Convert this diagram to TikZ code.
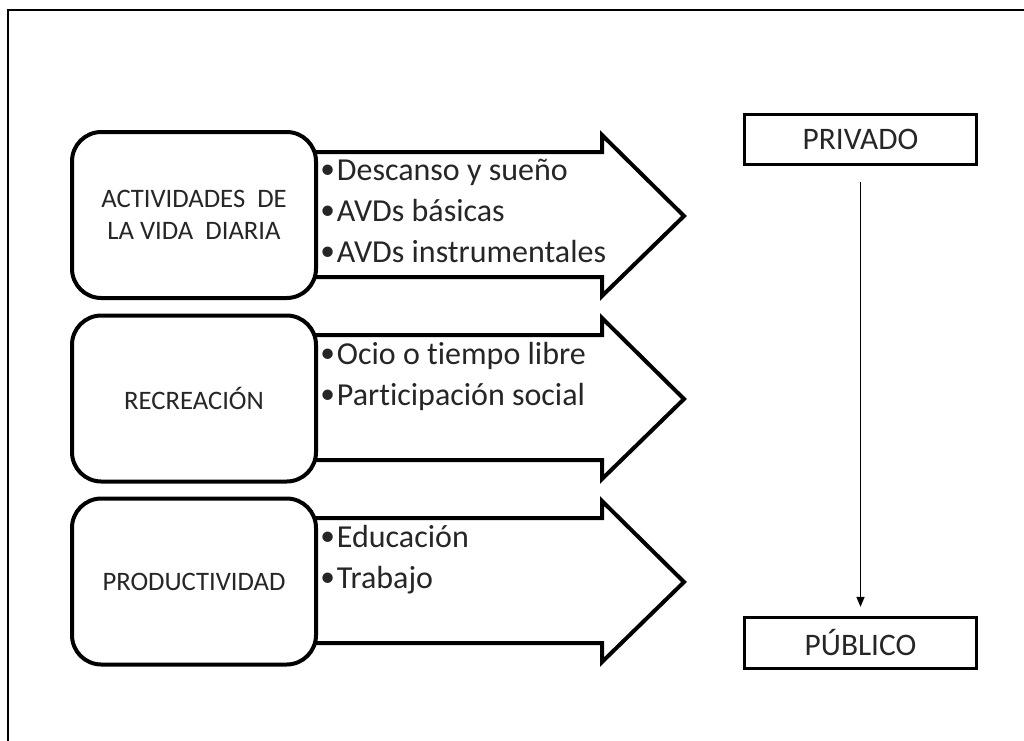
\documentclass[tikz,border=0pt]{standalone}
\usepackage{fontspec}
\setmainfont{Carlito}[Ligatures=NoCommon]
\usetikzlibrary{arrows.meta}
\definecolor{txt}{HTML}{262626}
\tikzset{
  rbox/.style={draw=black, line width=3pt, rounded corners=22pt, fill=white,
    minimum width=183pt, minimum height=124.5pt, align=center, text=txt,
    font=\fontsize{20}{23.5}\selectfont},
  pbox/.style={draw=black, line width=2.2pt, fill=white, minimum width=174.5pt,
    minimum height=38pt, text=txt, font=\fontsize{23.5}{26}\selectfont},
  blockarrow/.style={draw=black, line width=3pt, fill=white, line join=miter},
  item/.style={anchor=base west, inner sep=0pt, text=txt, font=\fontsize{24}{28}\selectfont},
  frameline/.style={line width=1.5pt, black},
  flow/.style={line width=1pt, -{Triangle[width=6pt,length=7.5pt]}}
}
\newcommand{\bul}{\makebox[12.5pt][l]{\fontsize{22}{22}\selectfont\raisebox{1.5pt}{•}}}
\begin{document}
\begin{tikzpicture}[x=0.75pt,y=-0.75pt]
\useasboundingbox (0,0) rectangle (1024,740);
\draw[frameline] (8,745) -- (8,10) -- (1030,10);
% block arrows
\foreach \T in {132,315,498}{
  \draw[blockarrow] (300,\T+20) -- (602,\T+20) -- (602,\T+3) -- (684,\T+84)
    -- (602,\T+164) -- (602,\T+145) -- (300,\T+145) -- cycle;
}
% rounded boxes
\node[rbox] (b1) at (194,215) {ACTIVIDADES\ \ DE\\LA VIDA\ \ DIARIA};
\node[rbox] (b2) at (194,398.5) {RECREACIÓN};
\node[rbox] (b3) at (194,581.5) {PRODUCTIVIDAD};
% items
\node[item] (i11) at (320,180) {\bul Descanso y sueño};
\node[item] (i12) at (320,221) {\bul AVDs básicas};
\node[item] (i13) at (320,262) {\bul AVDs instrumentales};
\node[item] (i21) at (320,364) {\bul Ocio o tiempo libre};
\node[item] (i22) at (320,405) {\bul Participación social};
\node[item] (i31) at (320,547) {\bul Educación};
\node[item] (i32) at (320,588) {\bul Trabajo};
% privado / publico
\node[pbox] (priv) at (860.5,139.5) {PRIVADO};
\node[pbox] (pub) at (860.5,643) {PÚBLICO};
\draw[flow, shorten <=12pt, shorten >=7pt] (priv.south) -- (pub.north);
\end{tikzpicture}
\end{document}
